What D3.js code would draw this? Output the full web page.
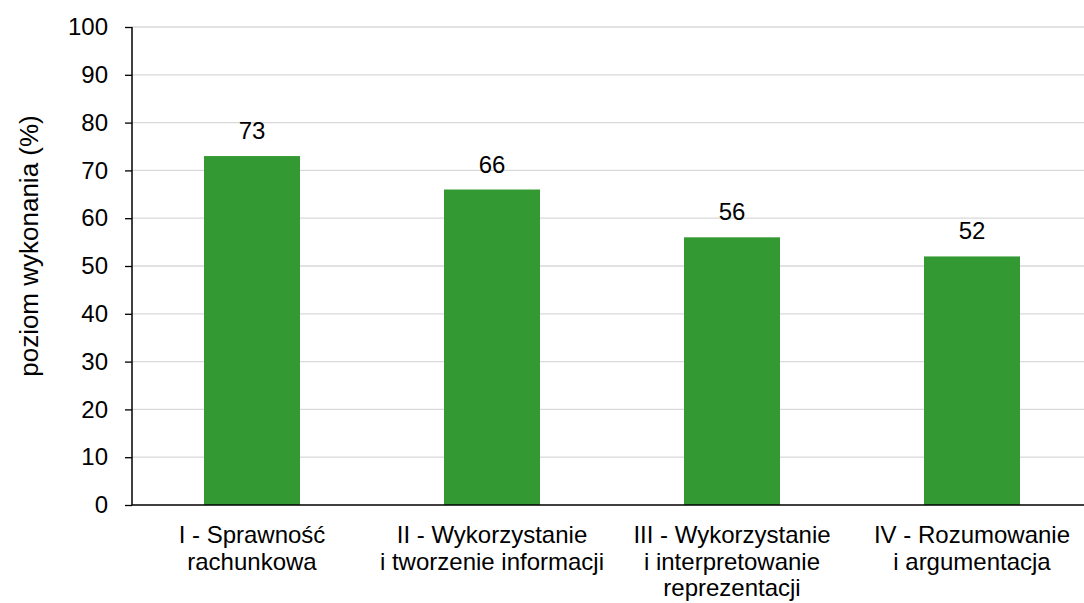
<!DOCTYPE html>
<html>
<head>
<meta charset="utf-8">
<script src="https://cdn.jsdelivr.net/npm/d3@7"></script>
<style>
  body { margin: 0; background: #fff; }
  svg { display: block; font-family: "Liberation Sans", Arial, sans-serif; }
</style>
</head>
<body>
<div id="chart"></div>
<script>
// data
const categories = ['I', 'II', 'III', 'IV'];
const labelLines = [
    ['I - Sprawność', 'rachunkowa'],
    ['II - Wykorzystanie', 'i tworzenie informacji'],
    ['III - Wykorzystanie', 'i interpretowanie', 'reprezentacji'],
    ['IV - Rozumowanie', 'i argumentacja']
];
const values = [73, 66, 56, 52];
const yTicks = [0, 10, 20, 30, 40, 50, 60, 70, 80, 90, 100];
const yTitle = 'poziom wykonania (%)';

const width = 1084, height = 603;
const plotLeft = 132, plotRight = 1092, plotTop = 27, plotBottom = 505;

const svg = d3.select('#chart').append('svg').attr('width', width).attr('height', height);

const x = d3.scaleBand().domain(categories).range([plotLeft, plotRight]).paddingInner(0.6).paddingOuter(0.3);
const y = d3.scaleLinear().domain([0, 100]).range([plotBottom, plotTop]);

// gridlines
svg.append('g')
    .attr('class', 'grid')
    .selectAll('line')
    .data(yTicks.filter(d => d > 0))
    .join('line')
        .attr('x1', plotLeft).attr('x2', plotRight)
        .attr('y1', d => y(d)).attr('y2', d => y(d))
        .attr('stroke', '#d9d9d9')
        .attr('stroke-width', 1.3);

// bars
svg.append('g')
    .selectAll('rect')
    .data(values)
    .join('rect')
        .attr('x', (d, i) => x(categories[i]))
        .attr('y', d => y(d))
        .attr('width', x.bandwidth())
        .attr('height', d => y(0) - y(d))
        .attr('fill', '#339933');

// value labels
svg.append('g')
    .selectAll('text')
    .data(values)
    .join('text')
        .attr('x', (d, i) => x(categories[i]) + x.bandwidth()/2)
        .attr('y', d => y(d) - 17)
        .attr('text-anchor', 'middle')
        .style('font-size', '24px')
        .style('fill', '#000')
        .text(d => d);

// left axis
const laxis = svg.append('g')
    .attr('transform', `translate(${plotLeft},0)`)
    .call(d3.axisLeft(y).tickValues(yTicks).tickSize(7).tickPadding(17));
laxis.select('.domain').attr('d', `M0,${plotTop}V${plotBottom}`).attr('stroke', '#000').attr('stroke-width', 1.5);
laxis.selectAll('.tick line').attr('stroke', '#000').attr('stroke-width', 1.3);
laxis.selectAll('.tick text')
    .style('font-size', '24px')
    .style('font-family', '"Liberation Sans", Arial, sans-serif')
    .style('fill', '#000');

// bottom axis line
svg.append('line')
    .attr('x1', plotLeft).attr('x2', plotRight)
    .attr('y1', plotBottom).attr('y2', plotBottom)
    .attr('stroke', '#000')
    .attr('stroke-width', 1.5);

// category labels
const cat = svg.append('g')
    .selectAll('text')
    .data(categories)
    .join('text')
        .attr('x', d => x(d) + x.bandwidth()/2)
        .attr('y', 543)
        .attr('text-anchor', 'middle')
        .style('font-size', '24px')
        .style('fill', '#000');
cat.selectAll('tspan')
    .data((d, i) => labelLines[i])
    .join('tspan')
        .attr('x', function(){ return d3.select(this.parentNode).attr('x'); })
        .attr('dy', (d, i) => i == 0 ? 0 : 26.5)
        .text(d => d);

// y title
svg.append('text')
    .attr('transform', `translate(38,246) rotate(-90)`)
    .attr('text-anchor', 'middle')
    .style('font-size', '26px')
    .style('fill', '#000')
    .text(yTitle);
</script>
</body>
</html>
